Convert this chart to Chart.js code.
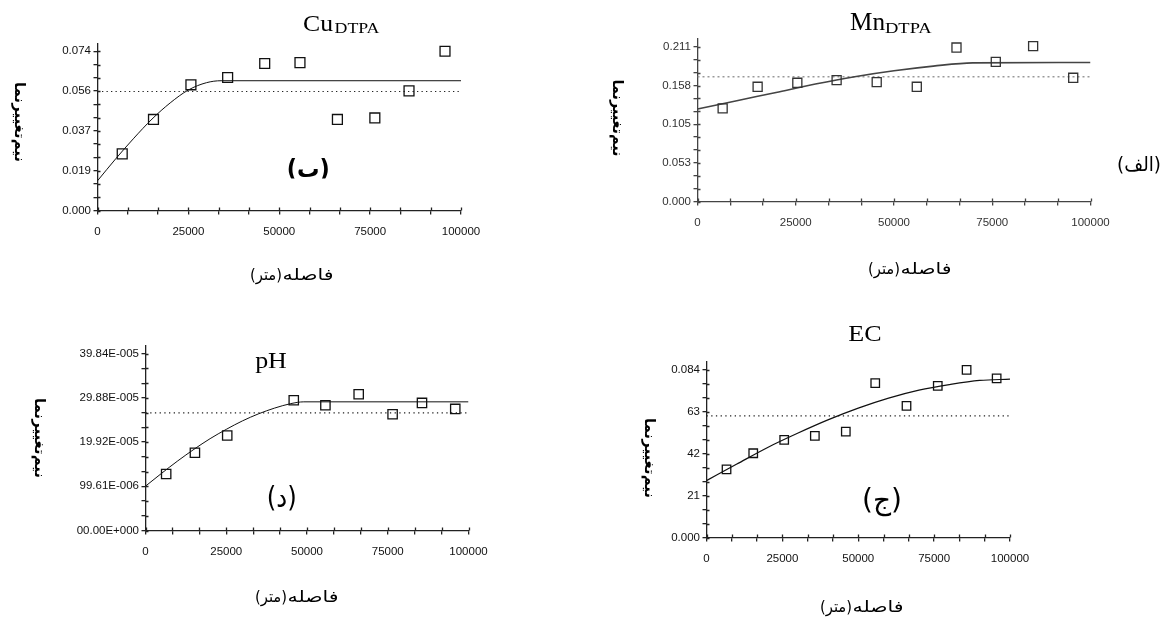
<!DOCTYPE html>
<html>
<head>
<meta charset="utf-8">
<script src="https://cdn.jsdelivr.net/npm/chart.js@4"></script>
<style>
  body { margin: 0; background: #fff; }
  canvas { position: absolute; left: 0; top: 0; }
</style>
</head>
<body>
<canvas id="cu" width="1164" height="621"></canvas>
<canvas id="mn" width="1164" height="621"></canvas>
<canvas id="ph" width="1164" height="621"></canvas>
<canvas id="ec" width="1164" height="621"></canvas>
<script>
// shared x axis (lag distance, metres)
var xLabels = ['0', '25000', '50000', '75000', '100000'];
var xTop = 100000;

// Cu (ب)
var cuLag = [6800, 15400, 25700, 35800, 46000, 55700, 66000, 76300, 85700, 95600];
var cuGamma = [0.0263, 0.0423, 0.0584, 0.0618, 0.0683, 0.0687, 0.0423, 0.0430, 0.0556, 0.0740];
var cuModelX = [0, 5000, 10000, 15000, 20000, 25000, 30000, 34000, 100000];
var cuModelY = [0.0138, 0.0240, 0.0336, 0.0425, 0.0500, 0.0560, 0.0594, 0.0603, 0.0603];
var cuVariance = 0.0553;
var cuYLabels = ['0.000', '0.019', '0.037', '0.056', '0.074'];
var cuYTop = 0.074;

// Mn (الف)
var mnLag = [6400, 15300, 25400, 35400, 45600, 55800, 65900, 75900, 85400, 95600];
var mnGamma = [0.1271, 0.1565, 0.1620, 0.1656, 0.1629, 0.1565, 0.2101, 0.1906, 0.2119, 0.1688];
var mnModelX = [0, 10000, 20000, 30000, 40000, 50000, 60000, 70000, 100000];
var mnModelY = [0.1261, 0.1375, 0.1488, 0.1602, 0.1702, 0.1783, 0.1847, 0.1892, 0.1897];
var mnVariance = 0.1702;
var mnYLabels = ['0.000', '0.053', '0.105', '0.158', '0.211'];
var mnYTop = 0.211;

// pH (د)
var phLag = [6400, 15300, 25300, 45900, 55700, 66000, 76500, 85600, 95900];
var phGamma = [1.273e-4, 1.752e-4, 2.142e-4, 2.936e-4, 2.823e-4, 3.070e-4, 2.621e-4, 2.876e-4, 2.741e-4];
var phModelX = [0, 5000, 10000, 15000, 20000, 25000, 30000, 35000, 40000, 45000, 49000, 100000];
var phModelY = [1.00e-4, 1.29e-4, 1.57e-4, 1.83e-4, 2.07e-4, 2.28e-4, 2.47e-4, 2.63e-4, 2.76e-4, 2.86e-4, 2.90e-4, 2.90e-4];
var phVariance = 2.651e-4;
var phYLabels = ['00.00E+000', '99.61E-006', '19.92E-005', '29.88E-005', '39.84E-005'];
var phYTop = 3.984e-4;

// EC (ج)
var ecLag = [6600, 15400, 25600, 35700, 45900, 55600, 65900, 76200, 85700, 95600];
var ecGamma = [0.0341, 0.0422, 0.0489, 0.0509, 0.0530, 0.0773, 0.0659, 0.0760, 0.0840, 0.0797];
var ecModelX = [0, 10000, 20000, 30000, 40000, 50000, 60000, 70000, 80000, 90000, 100000];
var ecModelY = [0.0285, 0.0368, 0.0450, 0.0522, 0.0589, 0.0648, 0.0698, 0.0738, 0.0766, 0.0787, 0.0793];
var ecVariance = 0.0609;
var ecYLabels = ['0.000', '21', '42', '63', '0.084'];
var ecYTop = 0.084;

var W = 1164, H = 621;
var tickFont = '"Liberation Sans", Arial, sans-serif';
var serif = '"Liberation Serif", "Times New Roman", serif';
var arabic = '"DejaVu Sans", sans-serif';
var yTitle = 'نیم‌تغییرنما';
var xWord = 'فاصله';
var xUnit = '(متر)';

function pts(xs, ys) {
    return xs.map(function(x, i) { return {x: x, y: ys[i]}; });
}

function drawText(ctx, t) {
    ctx.save();
    if (t.clip) {
        ctx.beginPath();
        ctx.rect(t.clip[0], t.clip[1], t.clip[2], t.clip[3]);
        ctx.clip();
    }
    ctx.font = t.font;
    ctx.fillStyle = t.color || '#000';
    ctx.textAlign = 'center';
    ctx.textBaseline = t.baseline || 'alphabetic';
    var w = ctx.measureText(t.text).width;
    var sx = t.w ? t.w / w : 1;
    ctx.translate(t.x, t.y);
    if (t.rot) ctx.rotate(t.rot);
    ctx.scale(sx, 1);
    ctx.fillText(t.text, 0, 0);
    ctx.restore();
}

// x title, Persian order: unit in brackets on the left, word on the right
function xTitle(left, base) {
    return [
        {text: xUnit, font: '16px ' + arabic, x: left + 16, y: base, w: 32},
        {text: xWord, font: '16px ' + arabic, x: left + 58, y: base, w: 51}
    ];
}

function makePanel(id, p) {
    var a = p.area;
    var xTicks = [], yTicks = [];
    for (var k = 0; k <= 12; k++) {
        xTicks.push(xTop * k / 12);
        yTicks.push(p.yTop * k / 12);
    }

    var decor = {
        id: 'decor',
        afterDraw: function(chart) {
            var ctx = chart.ctx, ca = chart.chartArea;
            var sx = chart.scales.x, sy = chart.scales.y;
            ctx.save();
            ctx.strokeStyle = p.axis;
            ctx.lineWidth = 1.3;
            ctx.beginPath();
            sx.ticks.forEach(function(t) {
                var px = Math.round(sx.getPixelForValue(t.value)) + 0.5;
                ctx.moveTo(px, ca.bottom);
                ctx.lineTo(px, ca.bottom - 3);
            });
            sy.ticks.forEach(function(t) {
                var py = Math.round(sy.getPixelForValue(t.value)) + 0.5;
                ctx.moveTo(ca.left, py);
                ctx.lineTo(ca.left + 3, py);
            });
            ctx.stroke();
            ctx.restore();
            p.texts.forEach(function(t) { drawText(ctx, t); });
        }
    };

    return new Chart(document.getElementById(id), {
        type: 'scatter',
        data: {
            datasets: [{
                data: pts(p.lag, p.gamma),
                pointStyle: 'rect',
                pointRadius: p.r,
                borderColor: p.point,
                borderWidth: 1.3,
                backgroundColor: 'rgba(0,0,0,0)',
                clip: false
            }, {
                data: pts(p.modelX, p.modelY),
                showLine: true,
                pointRadius: 0,
                borderColor: p.line,
                borderWidth: p.lineWidth,
                cubicInterpolationMode: 'monotone'
            }, {
                data: pts([0, xTop], [p.variance, p.variance]),
                showLine: true,
                pointRadius: 0,
                borderColor: p.dot,
                borderWidth: p.dotWidth,
                borderDash: p.dash
            }]
        },
        options: {
            responsive: false,
            animation: false,
            events: [],
            layout: {padding: {left: 0, top: a.top, right: W - a.right, bottom: 0}},
            plugins: {legend: {display: false}, tooltip: {enabled: false}},
            scales: {
                x: {
                    type: 'linear', min: 0, max: xTop,
                    afterFit: function(s) { s.height = H - a.bottom; },
                    afterBuildTicks: function(s) { s.ticks = xTicks.map(function(v) { return {value: v}; }); },
                    ticks: {
                        autoSkip: false, maxRotation: 0, padding: 10,
                        color: p.label, font: {family: tickFont, size: 11.5},
                        callback: function(v, i) { return i % 3 === 0 ? xLabels[i / 3] : ''; }
                    },
                    grid: {drawOnChartArea: false, tickLength: 4, color: p.axis, lineWidth: 1.3},
                    border: {color: p.axis, width: 1.3}
                },
                y: {
                    type: 'linear', min: 0, max: p.yMax,
                    afterFit: function(s) { s.width = a.left; },
                    afterBuildTicks: function(s) { s.ticks = yTicks.map(function(v) { return {value: v}; }); },
                    ticks: {
                        autoSkip: false, padding: 2.5,
                        color: p.label, font: {family: tickFont, size: 11.5},
                        callback: function(v, i) { return i % 3 === 0 ? p.yLabels[i / 3] : ''; }
                    },
                    grid: {drawOnChartArea: false, tickLength: 4, color: p.axis, lineWidth: 1.3},
                    border: {color: p.axis, width: 1.3}
                }
            }
        },
        plugins: [decor]
    });
}

makePanel('cu', {
    area: {left: 97.5, top: 43.5, right: 461, bottom: 210.5},
    lag: cuLag, gamma: cuGamma, modelX: cuModelX, modelY: cuModelY, variance: cuVariance,
    yLabels: cuYLabels, yTop: cuYTop, yMax: 0.0776,
    r: 7, point: '#111', line: '#111', lineWidth: 1, dot: '#222', dotWidth: 1.2, dash: [1.3, 3.2],
    axis: '#222', label: '#111',
    texts: [
        {text: 'Cu', font: '24px ' + serif, x: 318, y: 30.7, w: 30},
        {text: 'DTPA', font: '14px ' + serif, x: 357, y: 33.3, w: 45},
        {text: '(ب)', font: 'bold 24px ' + arabic, x: 308.3, y: 177, w: 43, clip: [0, 0, W, 178.5]},
        {text: yTitle, font: 'bold 15px ' + arabic, x: 19, y: 122, w: 80, rot: Math.PI / 2, baseline: 'middle'}
    ].concat(xTitle(250, 280))
});

makePanel('mn', {
    area: {left: 697.5, top: 38.5, right: 1090.5, bottom: 201.5},
    lag: mnLag, gamma: mnGamma, modelX: mnModelX, modelY: mnModelY, variance: mnVariance,
    yLabels: mnYLabels, yTop: mnYTop, yMax: 0.2224,
    r: 6.4, point: '#333', line: '#444', lineWidth: 1.6, dot: '#999', dotWidth: 1.5, dash: [2, 3],
    axis: '#444', label: '#333',
    texts: [
        {text: 'Mn', font: '25px ' + serif, x: 867.5, y: 30, w: 35},
        {text: 'DTPA', font: '14px ' + serif, x: 908.3, y: 32.7, w: 46.7},
        {text: '(الف)', font: '20px ' + arabic, x: 1139, y: 170.5, w: 44},
        {text: yTitle, font: 'bold 15px ' + arabic, x: 617, y: 118, w: 77, rot: Math.PI / 2, baseline: 'middle'}
    ].concat(xTitle(868, 274))
});

makePanel('ph', {
    area: {left: 145.5, top: 345.5, right: 468.5, bottom: 530.5},
    lag: phLag, gamma: phGamma, modelX: phModelX, modelY: phModelY, variance: phVariance,
    yLabels: phYLabels, yTop: phYTop, yMax: 4.170e-4,
    r: 6.6, point: '#111', line: '#111', lineWidth: 1, dot: '#222', dotWidth: 1.2, dash: [1.3, 3.4],
    axis: '#222', label: '#111',
    texts: [
        {text: 'pH', font: '23px ' + serif, x: 271, y: 368.3, w: 31.7},
        {text: '(د)', font: '28px ' + arabic, x: 281.7, y: 506.5, w: 30},
        {text: yTitle, font: 'bold 15px ' + arabic, x: 39, y: 438, w: 80, rot: Math.PI / 2, baseline: 'middle'}
    ].concat(xTitle(255, 602))
});

makePanel('ec', {
    area: {left: 706.5, top: 361.5, right: 1010, bottom: 537.5},
    lag: ecLag, gamma: ecGamma, modelX: ecModelX, modelY: ecModelY, variance: ecVariance,
    yLabels: ecYLabels, yTop: ecYTop, yMax: 0.08817,
    r: 6, point: '#111', line: '#111', lineWidth: 1.2, dot: '#222', dotWidth: 1.2, dash: [1.3, 3.4],
    axis: '#222', label: '#111',
    texts: [
        {text: 'EC', font: '24px ' + serif, x: 865, y: 340.7, w: 33.3},
        {text: '(ج)', font: '28px ' + arabic, x: 882, y: 509, w: 40},
        {text: yTitle, font: 'bold 15px ' + arabic, x: 649, y: 458, w: 80, rot: Math.PI / 2, baseline: 'middle'}
    ].concat(xTitle(820, 612))
});
</script>
</body>
</html>
